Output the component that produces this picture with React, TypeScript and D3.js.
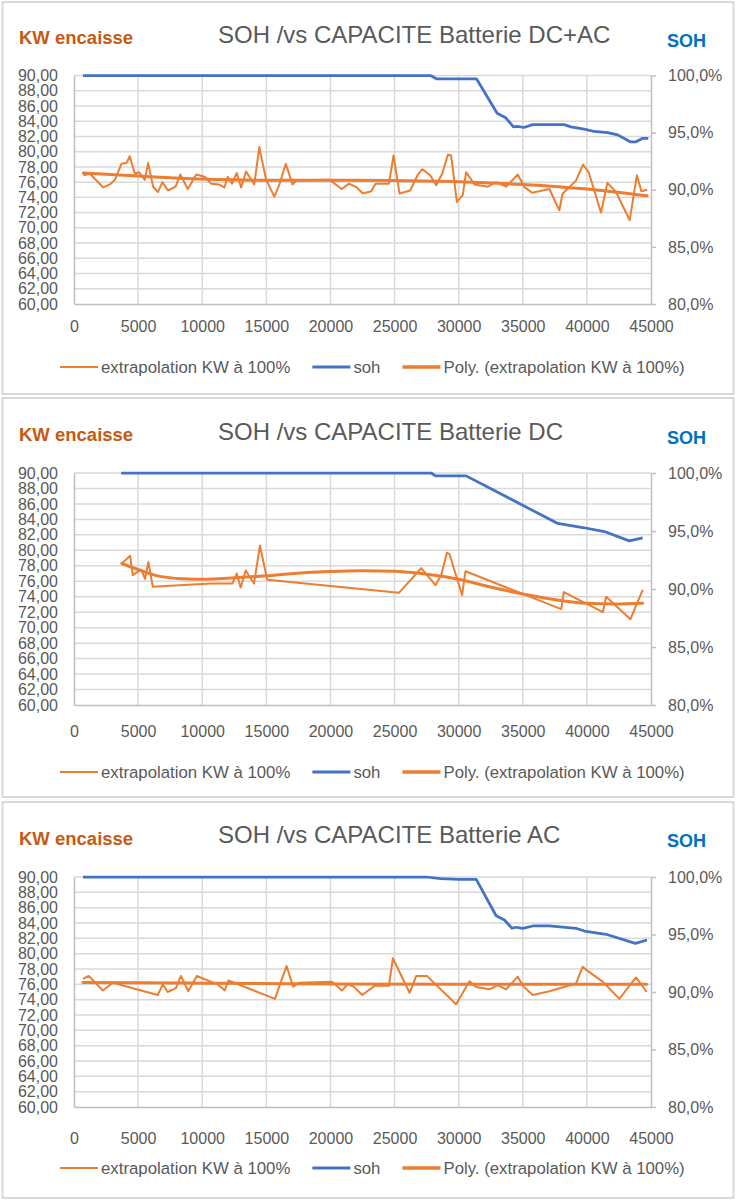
import * as d3 from 'd3';
import { useEffect, useRef } from 'react';

// ---- DC+AC : kilometrage / KW encaisse (extrapolation à 100%)
const kmDcAc = [725, 1240, 2280, 2800, 3190, 3700, 4090, 4350, 4740, 5080, 5520, 5780, 6170, 6550, 6890, 7330, 7920, 8290, 8880, 9530, 10180, 10700, 11290, 11730, 11990, 12330, 12690, 13030, 13420, 14060, 14450, 14970, 15620, 16000, 16520, 17040, 17350, 19940, 20880, 21450, 22010, 22530, 23180, 23520, 24560, 24920, 25390, 26220, 26820, 27160, 27780, 28250, 28710, 29160, 29410, 29860, 30320, 30580, 31230, 32270, 32920, 33700, 34610, 35130, 35730, 37080, 37850, 38110, 39150, 39700, 40140, 41100, 41600, 42270, 43340, 43900, 44250, 44700];
const kwDcAc = [76.9, 77.1, 75.3, 75.7, 76.3, 78.4, 78.5, 79.4, 77.1, 77.3, 76.3, 78.5, 75.4, 74.7, 76.0, 74.9, 75.4, 77.0, 75.1, 77.0, 76.7, 75.8, 75.7, 75.3, 76.7, 75.8, 77.2, 75.3, 77.4, 75.7, 80.6, 76.4, 74.1, 75.6, 78.4, 75.7, 76.2, 76.3, 75.1, 75.8, 75.35, 74.5, 74.8, 75.8, 75.8, 79.5, 74.5, 74.9, 77.0, 77.7, 76.9, 75.6, 77.1, 79.6, 79.5, 73.4, 74.3, 77.3, 75.7, 75.4, 76.0, 75.4, 77.0, 75.35, 74.6, 75.1, 72.3, 74.5, 76.2, 78.3, 77.3, 72.0, 75.9, 74.7, 71.0, 76.9, 74.8, 75.0];
const sohKmDcAc = [700, 27800, 28300, 31400, 33000, 33670, 34270, 34590, 35100, 35760, 38230, 38750, 39790, 40570, 41610, 42400, 43380, 43830, 44350, 44790];
const sohDcAc = [1.0, 1.0, 0.997, 0.997, 0.967, 0.963, 0.955, 0.9555, 0.9545, 0.957, 0.957, 0.955, 0.953, 0.951, 0.95, 0.948, 0.942, 0.942, 0.945, 0.945];
const polyKmDcAc = [725, 5000, 10000, 15000, 20000, 25000, 30000, 35000, 40000, 44700];
const polyDcAc = [77.2, 76.8, 76.4, 76.25, 76.25, 76.2, 76.05, 75.7, 75.1, 74.2];

// ---- DC
const kmDc = [3730, 4380, 4580, 5230, 5540, 5800, 6140, 10670, 12350, 12690, 13000, 13390, 14040, 14500, 15070, 25340, 27080, 28190, 28640, 29080, 29290, 30270, 30530, 38000, 38200, 41250, 41500, 43400, 44350];
const kwDc = [78.3, 79.3, 76.8, 77.5, 76.3, 78.5, 75.3, 75.7, 75.7, 77.0, 75.2, 77.4, 75.7, 80.6, 76.2, 74.5, 77.7, 75.5, 76.8, 79.7, 79.5, 74.2, 77.3, 72.4, 74.6, 72.0, 74.0, 71.1, 74.9];
const sohKmDc = [3680, 27860, 28190, 30580, 37730, 39670, 41360, 43310, 44350];
const sohDc = [1.0, 1.0, 0.9975, 0.9975, 0.9565, 0.953, 0.9495, 0.9415, 0.944];
const polyKmDc = [3730, 5030, 6800, 9400, 12000, 15000, 17150, 20000, 22500, 25000, 27080, 30000, 32400, 35000, 37600, 40000, 42270, 44350];
const polyDc = [78.3, 77.5, 76.6, 76.25, 76.4, 76.7, 77.0, 77.25, 77.35, 77.3, 77.0, 76.25, 75.3, 74.35, 73.6, 73.15, 73.05, 73.15];

// ---- AC
const kmAc = [700, 1140, 1610, 2250, 3030, 6530, 6920, 7300, 7950, 8340, 8910, 9580, 10150, 11190, 11760, 12040, 15670, 16580, 17090, 17530, 20120, 20900, 21340, 21810, 22480, 23440, 24560, 24870, 26170, 26690, 27520, 29800, 30840, 31360, 32400, 33050, 33700, 34610, 35000, 35780, 37080, 39150, 39670, 40140, 41230, 42530, 43830, 44660];
const kwAc = [76.7, 77.1, 76.3, 75.2, 76.2, 74.6, 76.0, 75.0, 75.5, 77.1, 75.1, 77.1, 76.7, 76.0, 75.2, 76.5, 74.1, 78.4, 75.7, 76.2, 76.35, 75.2, 76.0, 75.7, 74.6, 75.8, 75.8, 79.4, 74.9, 77.1, 77.1, 73.4, 76.4, 75.65, 75.35, 75.9, 75.35, 77.0, 75.8, 74.6, 75.1, 76.1, 78.3, 77.65, 76.35, 74.1, 76.9, 75.0];
const sohKmAc = [700, 27470, 28600, 30000, 31370, 32920, 33570, 34160, 34480, 35000, 35780, 37080, 39150, 39800, 41490, 43780, 44690];
const sohAc = [1.0, 1.0, 0.9985, 0.998, 0.998, 0.9663, 0.9626, 0.9554, 0.9563, 0.9554, 0.9574, 0.9574, 0.9554, 0.953, 0.9502, 0.9423, 0.9452];
const polyKmAc = [700, 10000, 20000, 30000, 40000, 44660];
const polyAc = [76.25, 76.15, 76.05, 76.0, 76.0, 76.0];

const xTicks = [0, 5000, 10000, 15000, 20000, 25000, 30000, 35000, 40000, 45000];
const kwTicks = [60, 62, 64, 66, 68, 70, 72, 74, 76, 78, 80, 82, 84, 86, 88, 90];
const sohTicks = [0.8, 0.85, 0.9, 0.95, 1.0];
const titles = ['SOH /vs CAPACITE Batterie DC+AC', 'SOH /vs CAPACITE Batterie DC', 'SOH /vs CAPACITE Batterie AC'];
const legendLabels = ['extrapolation KW à 100%', 'soh', 'Poly. (extrapolation KW à 100%)'];

const FONT = "'Liberation Sans', Arial, sans-serif";
const ORANGE = '#ed7d31';
const BLUE = '#4472c4';
const GRID = '#d9d9d9';
const AXIS = '#bfbfbf';
const TEXT = '#595959';

type Panel = {
    title: string;
    km: number[];
    kw: number[];
    sohKm: number[];
    soh: number[];
    polyKm: number[];
    poly: number[];
    box: [number, number];
    titleY: number;
    kwY: number;
    sohY: number;
    plot: [number, number];
    xLabelY: number;
    legendY: number;
};

const panels: Panel[] = [
    { title: titles[0], km: kmDcAc, kw: kwDcAc, sohKm: sohKmDcAc, soh: sohDcAc, polyKm: polyKmDcAc, poly: polyDcAc, box: [2, 394], titleY: 43, kwY: 43.5, sohY: 47, plot: [75.5, 304], xLabelY: 332, legendY: 367 },
    { title: titles[1], km: kmDc, kw: kwDc, sohKm: sohKmDc, soh: sohDc, polyKm: polyKmDc, poly: polyDc, box: [398, 797], titleY: 440, kwY: 441, sohY: 444, plot: [473, 705], xLabelY: 737, legendY: 772 },
    { title: titles[2], km: kmAc, kw: kwAc, sohKm: sohKmAc, soh: sohAc, polyKm: polyKmAc, poly: polyAc, box: [802, 1198], titleY: 843, kwY: 845, sohY: 847, plot: [877, 1107], xLabelY: 1144, legendY: 1168 },
];

function drawPanel(g: d3.Selection<SVGGElement, unknown, null, undefined>, p: Panel) {
    const [top, bottom] = p.plot;
    const x = d3.scaleLinear().domain([0, 45000]).range([74, 651]);
    const y = d3.scaleLinear().domain([60, 90]).range([bottom, top]);
    const y2 = d3.scaleLinear().domain([0.8, 1]).range([bottom, top]);

    g.append('rect')
        .attr('x', 2.5)
        .attr('y', p.box[0])
        .attr('width', 731)
        .attr('height', p.box[1] - p.box[0])
        .attr('fill', '#fff')
        .attr('stroke', GRID)
        .attr('stroke-width', 2);

    // quadrillage
    g.append('g')
        .selectAll('line')
        .data(kwTicks.slice(1))
        .join('line')
        .attr('x1', x(0))
        .attr('x2', x(45000))
        .attr('y1', (d) => y(d))
        .attr('y2', (d) => y(d))
        .attr('stroke', GRID)
        .attr('stroke-width', 1.5);
    g.append('g')
        .selectAll('line')
        .data(xTicks.slice(1, -1))
        .join('line')
        .attr('x1', (d) => x(d))
        .attr('x2', (d) => x(d))
        .attr('y1', top)
        .attr('y2', bottom)
        .attr('stroke', GRID)
        .attr('stroke-width', 1.5);

    const styleAxis = (a: d3.Selection<SVGGElement, unknown, null, undefined>) => {
        a.attr('font-size', 16).attr('font-family', FONT);
        a.select('.domain').attr('stroke', AXIS).attr('stroke-width', 1.5);
        a.selectAll('.tick line').attr('stroke', AXIS).attr('stroke-width', 1.5);
        a.selectAll('.tick text').attr('fill', TEXT);
    };

    g.append('g')
        .attr('transform', `translate(${x(0)},0)`)
        .call(
            d3
                .axisLeft(y)
                .tickValues(kwTicks)
                .tickFormat((d) => d3.format('.2f')(+d).replace('.', ','))
                .tickSizeInner(0)
                .tickSizeOuter(0)
                .tickPadding(16)
        )
        .call(styleAxis);

    g.append('g')
        .attr('transform', `translate(${x(45000)},0)`)
        .call(
            d3
                .axisRight(y2)
                .tickValues(sohTicks)
                .tickFormat((d) => (+d * 100).toFixed(1).replace('.', ',') + '%')
                .tickSizeInner(5)
                .tickSizeOuter(0)
                .tickPadding(12)
        )
        .call(styleAxis);

    g.append('g')
        .attr('transform', `translate(0,${bottom})`)
        .call(
            d3
                .axisBottom(x)
                .tickValues(xTicks)
                .tickFormat(d3.format('d'))
                .tickSizeInner(0)
                .tickSizeOuter(0)
                .tickPadding(p.xLabelY - bottom - 11.4)
        )
        .call(styleAxis);

    // séries
    const kwLine = d3
        .line<number>()
        .x((_, i) => x(p.km[i]))
        .y((d) => y(d));
    const polyLine = d3
        .line<number>()
        .x((_, i) => x(p.polyKm[i]))
        .y((d) => y(d))
        .curve(d3.curveMonotoneX);
    const sohLine = d3
        .line<number>()
        .x((_, i) => x(p.sohKm[i]))
        .y((d) => y2(d));

    g.append('path')
        .datum(p.kw)
        .attr('d', kwLine)
        .attr('fill', 'none')
        .attr('stroke', ORANGE)
        .attr('stroke-width', 2)
        .attr('stroke-linejoin', 'round');
    g.append('path')
        .datum(p.poly)
        .attr('d', polyLine)
        .attr('fill', 'none')
        .attr('stroke', ORANGE)
        .attr('stroke-width', 3)
        .attr('stroke-linecap', 'round');
    g.append('path')
        .datum(p.soh)
        .attr('d', sohLine)
        .attr('fill', 'none')
        .attr('stroke', BLUE)
        .attr('stroke-width', 2.75)
        .attr('stroke-linejoin', 'round');

    // titres
    g.append('text')
        .attr('x', 218)
        .attr('y', p.titleY)
        .attr('font-family', FONT)
        .attr('font-size', 24)
        .attr('fill', TEXT)
        .text(p.title);
    g.append('text')
        .attr('x', 19)
        .attr('y', p.kwY)
        .attr('font-family', FONT)
        .attr('font-size', 18.5)
        .attr('font-weight', 'bold')
        .attr('fill', '#c55a11')
        .text('KW encaisse');
    g.append('text')
        .attr('x', 667)
        .attr('y', p.sohY)
        .attr('font-family', FONT)
        .attr('font-size', 18)
        .attr('font-weight', 'bold')
        .attr('fill', '#0070c0')
        .text('SOH');

    // légende
    const legend = g.append('g').attr('font-family', FONT).attr('font-size', 16.8);
    const swatches = [
        { color: ORANGE, width: 2 },
        { color: BLUE, width: 3 },
        { color: ORANGE, width: 3.5 },
    ];
    let cx = 60;
    legendLabels.forEach((label, i) => {
        legend
            .append('line')
            .attr('x1', cx)
            .attr('x2', cx + 38)
            .attr('y1', p.legendY)
            .attr('y2', p.legendY)
            .attr('stroke', swatches[i].color)
            .attr('stroke-width', swatches[i].width);
        const t = legend
            .append('text')
            .attr('x', cx + 41)
            .attr('y', p.legendY)
            .attr('dy', '0.35em')
            .attr('fill', TEXT)
            .text(label);
        const w = (t.node() as SVGTextElement).getComputedTextLength();
        cx += 41 + w + 22;
    });
}

export default function App() {
    const ref = useRef<SVGSVGElement | null>(null);

    useEffect(() => {
        if (!ref.current) return;
        const svg = d3.select(ref.current);
        svg.selectAll('*').remove();
        panels.forEach((p) => drawPanel(svg.append('g'), p));
    }, []);

    return (
        <svg
            ref={ref}
            width={739}
            height={1200}
            style={{ position: 'absolute', left: 0, top: 0, background: '#fff', display: 'block' }}
        />
    );
}
